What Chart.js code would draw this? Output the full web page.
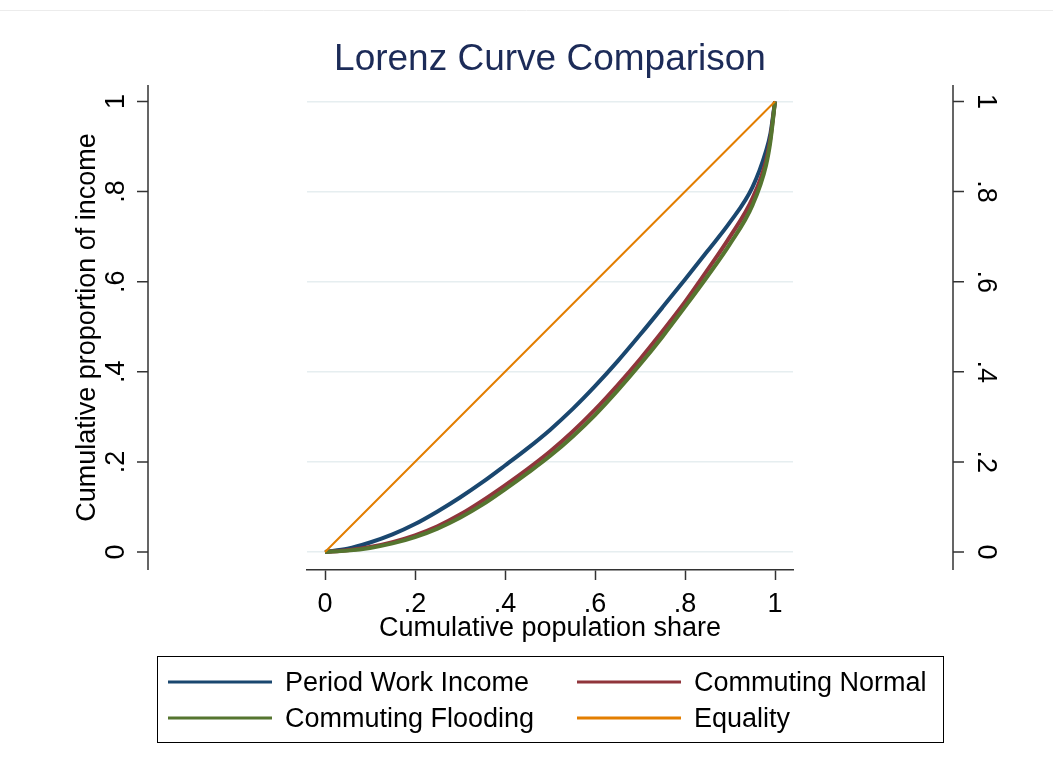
<!DOCTYPE html>
<html>
<head>
<meta charset="utf-8">
<title>Lorenz Curve Comparison</title>
<script src="https://cdn.jsdelivr.net/npm/chart.js@4"></script>
<style>
  html, body { margin: 0; padding: 0; background: #fff; }
  #wrap { width: 1053px; height: 773px; }
</style>
</head>
<body>
<div id="wrap"><canvas id="ctx" width="1053" height="773"></canvas></div>
<script>
// Data
const popShare   = [0, .05, .1, .15, .2, .25, .3, .35, .4, .45, .5, .55, .6, .65, .7, .75, .8, .85, .9, .95, .98, .99, 1];
const periodWork = [0, .007, .021, .039, .062, .09, .121, .155, .192, .23, .271, .317, .368, .423, .482, .543, .605, .668, .732, .81, .89, .93, 1];
const commNormal = [0, .004, .011, .022, .037, .057, .083, .114, .148, .184, .223, .267, .316, .37, .428, .49, .555, .626, .70, .785, .868, .92, 1];
const commFlood  = [0, .003, .009, .019, .033, .052, .076, .105, .139, .175, .213, .256, .304, .358, .416, .478, .544, .612, .684, .77, .858, .913, 1];
const equalityX  = [0, 1];
const equalityY  = [0, 1];
const tickVals   = [0, .2, .4, .6, .8, 1];
const tickLabels = ['0', '.2', '.4', '.6', '.8', '1'];
const seriesNames = ['Period Work Income', 'Commuting Normal', 'Commuting Flooding', 'Equality'];

const FONT = '"Liberation Sans", Arial, sans-serif';
const TXT = 27;
const pts = (xs, ys) => xs.map((x, i) => ({x: x, y: ys[i]}));

// y axes on both sides sit away from the plot region, so draw them here
const sideAxes = {
  id: 'sideAxes',
  afterDraw(chart) {
    const c = chart.ctx;
    const y = chart.scales.y;
    const top = chart.chartArea.top, bot = chart.chartArea.bottom;
    c.save();

    // faint frame line at the very top
    c.strokeStyle = '#ececec';
    c.lineWidth = 1;
    c.beginPath(); c.moveTo(0, 10.5); c.lineTo(1053, 10.5); c.stroke();

    c.strokeStyle = '#333';
    c.lineWidth = 1.5;
    c.fillStyle = '#000';
    c.font = TXT + 'px ' + FONT;
    c.textAlign = 'center';
    c.textBaseline = 'middle';

    c.beginPath();
    c.moveTo(148, top); c.lineTo(148, bot);
    c.moveTo(953, top); c.lineTo(953, bot);
    c.stroke();

    tickVals.forEach((v, i) => {
      const py = y.getPixelForValue(v);
      c.beginPath();
      c.moveTo(137, py); c.lineTo(148, py);
      c.moveTo(953, py); c.lineTo(964, py);
      c.stroke();
      c.save(); c.translate(117, py); c.rotate(-Math.PI / 2); c.fillText(tickLabels[i], 0, 0); c.restore();
      c.save(); c.translate(985, py); c.rotate(Math.PI / 2); c.fillText(tickLabels[i], 0, 0); c.restore();
    });

    c.save();
    c.translate(88, (top + bot) / 2);
    c.rotate(-Math.PI / 2);
    c.fillText('Cumulative proportion of income', 0, 0);
    c.restore();

    // legend, two columns
    c.lineWidth = 1;
    c.strokeStyle = '#000';
    c.strokeRect(157.5, 656.5, 786, 86);
    const cols = [168, 577], rows = [682, 718];
    c.textAlign = 'left';
    chart.data.datasets.forEach((ds, i) => {
      const lx = cols[i % 2], ly = rows[Math.floor(i / 2)];
      c.strokeStyle = ds.borderColor;
      c.lineWidth = 3;
      c.beginPath(); c.moveTo(lx, ly); c.lineTo(lx + 104, ly); c.stroke();
      c.fillText(ds.label, lx + 117, ly + 1.5);
    });
    c.restore();
  }
};

new Chart(document.getElementById('ctx'), {
  type: 'line',
  data: {
    datasets: [{
      label: seriesNames[0],
      data: pts(popShare, periodWork),
      borderColor: '#1a476f',
      borderWidth: 4,
      order: 4
    }, {
      label: seriesNames[1],
      data: pts(popShare, commNormal),
      borderColor: '#90353b',
      borderWidth: 4,
      order: 3
    }, {
      label: seriesNames[2],
      data: pts(popShare, commFlood),
      borderColor: '#55752f',
      borderWidth: 4,
      order: 2
    }, {
      label: seriesNames[3],
      data: pts(equalityX, equalityY),
      borderColor: '#e37e00',
      borderWidth: 2,
      order: 1
    }]
  },
  options: {
    responsive: false,
    animation: false,
    elements: {
      point: { radius: 0 },
      line: { cubicInterpolationMode: 'monotone', fill: false }
    },
    layout: { padding: { left: 307, right: 260, top: 38, bottom: 123 } },
    plugins: {
      legend: { display: false },
      tooltip: { enabled: false },
      title: {
        display: true,
        text: 'Lorenz Curve Comparison',
        color: '#1c2b58',
        font: { family: FONT, size: 37, weight: 'normal', lineHeight: 1.2 },
        padding: { top: 0, bottom: 2.6 }
      }
    },
    scales: {
      x: {
        type: 'linear',
        min: -0.04,
        max: 1.04,
        afterBuildTicks: s => { s.ticks = tickVals.map(v => ({value: v})); },
        afterFit: s => { s.height = 80; },
        grid: { drawOnChartArea: false, drawTicks: true, tickLength: 10, tickColor: '#333', tickWidth: 1.5 },
        border: { display: true, color: '#333', width: 1.5 },
        ticks: {
          padding: 8,
          color: '#000',
          font: { family: FONT, size: TXT },
          maxRotation: 0,
          callback: v => tickLabels[tickVals.indexOf(v)]
        },
        title: {
          display: true,
          text: 'Cumulative population share',
          color: '#000',
          font: { family: FONT, size: TXT, lineHeight: 1.2 },
          padding: { top: 0, bottom: 5 }
        }
      },
      y: {
        type: 'linear',
        min: -0.04,
        max: 1.0366,
        afterBuildTicks: s => { s.ticks = tickVals.map(v => ({value: v})); },
        afterFit: s => { s.width = 0; },
        grid: { color: '#e6eef0', lineWidth: 1.5, drawTicks: false },
        border: { display: false },
        ticks: { display: false }
      }
    }
  },
  plugins: [sideAxes]
});
</script>
</body>
</html>
